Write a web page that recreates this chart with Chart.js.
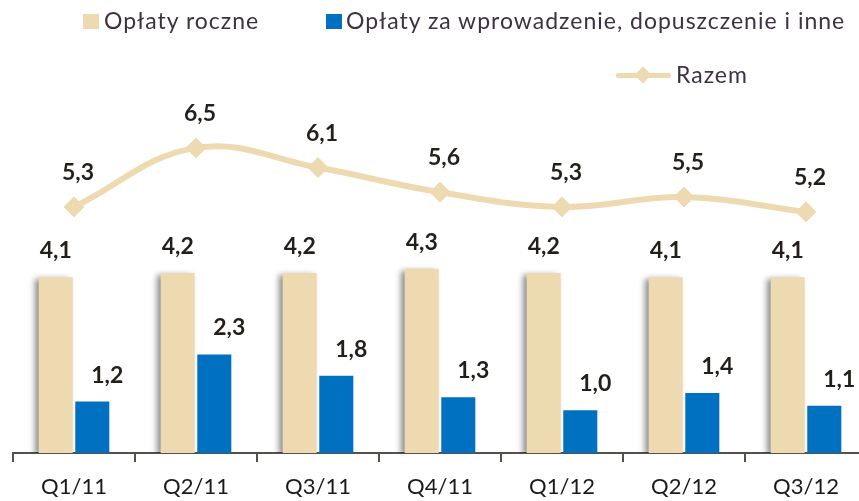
<!DOCTYPE html>
<html>
<head>
<meta charset="utf-8">
<script src="https://cdn.jsdelivr.net/npm/chart.js@4.4.1/dist/chart.umd.min.js"></script>
<style>
  html, body { margin: 0; padding: 0; background: #fff; overflow: hidden; }
  #wrap { position: relative; width: 868px; height: 501px; font-family: Lato, sans-serif; }
  #wrap canvas { position: absolute; left: 0; top: 0; }
  .leg { position: absolute; font-size: 23px; line-height: 22px; letter-spacing: 1px; color: #3d3340; white-space: nowrap; }
  .sq { position: absolute; width: 16px; height: 15px; }
  .ln { position: absolute; height: 5px; background: #eedab1; border-radius: 2px; }
  .dm { position: absolute; width: 12px; height: 12px; background: #eedab1; transform: rotate(45deg); }
</style>
</head>
<body>
<div id="wrap">
  <canvas id="grafica" width="868" height="501"></canvas>
  <span class="sq" style="left:83px;top:14px;background:#eedab1"></span>
  <div class="leg" id="leg1" style="left:104px;top:9px"></div>
  <span class="sq" style="left:326px;top:14px;background:#0070c0"></span>
  <div class="leg" id="leg2" style="left:346px;top:9px"></div>
  <span class="ln" style="left:616px;top:73px;width:55px"></span>
  <span class="dm" style="left:637px;top:69px"></span>
  <div class="leg" id="leg3" style="left:676px;top:63px"></div>
</div>
<script>
const kwartaly = ['Q1/11', 'Q2/11', 'Q3/11', 'Q4/11', 'Q1/12', 'Q2/12', 'Q3/12'];
const oplatyRoczne = [4.1, 4.2, 4.2, 4.3, 4.2, 4.1, 4.1];
const oplatyInne = [1.2, 2.3, 1.8, 1.3, 1.0, 1.4, 1.1];
const razem = [5.3, 6.5, 6.1, 5.6, 5.3, 5.5, 5.2];
const nazwy = ['Opłaty roczne', 'Opłaty za wprowadzenie, dopuszczenie i inne', 'Razem'];

document.querySelector('#leg1').textContent = nazwy[0];
document.querySelector('#leg2').textContent = nazwy[1];
document.querySelector('#leg3').textContent = nazwy[2];

const beige = '#eedab1';
const blue = '#0070c0';

// cien po lewej stronie bezowych slupkow
const cien = {
	id: 'cien',
	beforeDatasetDraw(chart, args) {
		if (args.index !== 0) return;
		const ctx = chart.ctx;
		ctx.save();
		ctx.shadowColor = 'rgba(0,0,0,0.45)';
		ctx.shadowBlur = 6;
		ctx.shadowOffsetX = -4;
		ctx.shadowOffsetY = 2;
	},
	afterDatasetDraw(chart, args) {
		if (args.index !== 0) return;
		chart.ctx.restore();
	}
};

// etykiety z wartosciami
const etykiety = {
	id: 'etykiety',
	afterDatasetsDraw(chart) {
		const ctx = chart.ctx;
		ctx.save();
		ctx.font = 'bold 23px Lato';
		ctx.fillStyle = '#231f1a';
		ctx.textAlign = 'center';
		ctx.textBaseline = 'alphabetic';
		const przes = [[0, -19], [15, -19], [4, -27]];
		chart.data.datasets.forEach((ds, i) => {
			const meta = chart.getDatasetMeta(i);
			meta.data.forEach((el, j) => {
				ctx.fillText(ds.data[j].toFixed(1).replace('.', ','), el.x + przes[i][0], el.y + przes[i][1]);
			});
		});
		ctx.restore();
	}
};

const data = {
	labels: kwartaly,
	datasets: [{
		label: nazwy[0],
		data: oplatyRoczne,
		backgroundColor: beige,
		categoryPercentage: 0.6,
		barPercentage: 0.93
	}, {
		label: nazwy[1],
		data: oplatyInne,
		backgroundColor: blue,
		categoryPercentage: 0.6,
		barPercentage: 0.93
	}, {
		type: 'line',
		label: nazwy[2],
		data: razem,
		yAxisID: 'y2',
		borderColor: beige,
		borderWidth: 6,
		tension: 0.4,
		pointStyle: 'rectRot',
		pointRadius: 10,
		pointBackgroundColor: beige,
		pointBorderColor: beige,
		pointBorderWidth: 1
	}]
};

const config = {
	type: 'bar',
	data: data,
	plugins: [cien, etykiety],
	options: {
		indexAxis: 'x',
		responsive: false,
		animation: false,
		devicePixelRatio: 1,
		layout: { autoPadding: false, padding: { top: 110, left: 13, right: 1, bottom: 0 } },
		plugins: { legend: { display: false }, tooltip: { enabled: false } },
		scales: {
			x: {
				offset: true,
				grid: { offset: true, drawOnChartArea: false, drawTicks: true, tickLength: 9, color: '#55504c', lineWidth: 2 },
				border: { display: true, color: '#55504c', width: 2 },
				ticks: { color: '#1a1a1a', font: { family: 'Lato', size: 22 }, padding: 12, maxRotation: 0 },
				afterFit: (s) => { s.height = 48; }
			},
			y: { display: false, min: 0, max: 8 },
			y2: { display: false, min: 0.3, max: 7.27 }
		}
	}
};

new Chart(document.querySelector('#grafica'), config);
</script>
</body>
</html>
